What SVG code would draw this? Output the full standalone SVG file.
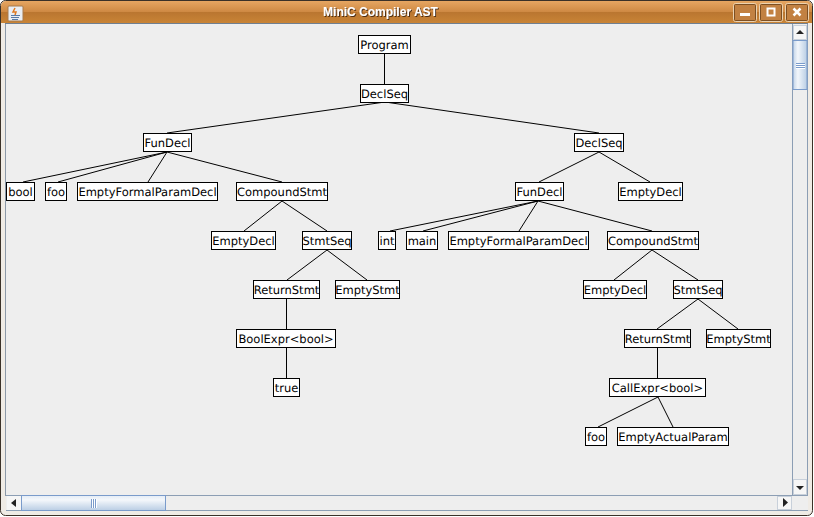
<svg xmlns="http://www.w3.org/2000/svg" width="814" height="517" viewBox="0 0 814 517">
<defs>
<linearGradient id="tb" x1="0" y1="0" x2="0" y2="1"><stop offset="0" stop-color="#e6a662"/><stop offset="0.48" stop-color="#cf8a44"/><stop offset="0.52" stop-color="#ba7630"/><stop offset="1" stop-color="#c98436"/></linearGradient>
<linearGradient id="vt" x1="0" y1="0" x2="1" y2="0"><stop offset="0" stop-color="#c3d4e8"/><stop offset="0.35" stop-color="#f2f6fb"/><stop offset="1" stop-color="#b9cde4"/></linearGradient>
<linearGradient id="ht" x1="0" y1="0" x2="0" y2="1"><stop offset="0" stop-color="#e4ecf6"/><stop offset="0.3" stop-color="#f4f7fb"/><stop offset="1" stop-color="#b9cde4"/></linearGradient>
<filter id="ts" x="-10%" y="-30%" width="120%" height="170%"><feDropShadow dx="1" dy="1" stdDeviation="0.7" flood-color="#3c2408" flood-opacity="0.9"/></filter>
</defs>
<style>
.n rect{fill:#fff;stroke:#000;stroke-width:1}
.n text{font:11.5px "DejaVu Sans",sans-serif;fill:#000;text-anchor:middle;text-rendering:geometricPrecision}
#connectors line{stroke:#000;stroke-width:1}
.wb{fill:none;stroke:#ecd2b0;stroke-width:1}
.bf{fill:#c28142;stroke:#7d4f22}
.tr{fill:#eeeeee}
.btn{fill:#f6f6f6;stroke:#c8d0da}
.th{stroke:#7a9bcb;stroke-width:1;fill:none}
.tw{stroke:#ffffff;stroke-width:1;fill:none}
</style>
<rect x="0" y="0" width="814" height="517" fill="#ffffff"/>
<g id="window">
<rect x="0.5" y="0.5" width="812" height="515" rx="5" fill="#efebe5" stroke="#3a3128"/>
<path d="M1 23V6a5 5 0 0 1 5-5H807a5 5 0 0 1 5 5V23Z" fill="url(#tb)"/>
<rect x="5" y="23" width="803" height="1" fill="#6f7f91"/>
<rect x="5" y="24" width="1" height="472" fill="#8c99a8"/>
<rect x="6" y="24" width="787" height="472" fill="#eeeeee"/>
<rect x="8" y="6" width="15" height="15" rx="1" fill="#e9eef4" stroke="#a87a4c"/>
<path d="M15 8l-2 4h3l-1 3" fill="none" stroke="#e07a20" stroke-width="1.5"/>
<path d="M11 15.500h9M11 17.500h8M12 19.500h6" stroke="#5a7ba6" stroke-width="1"/>
<text x="380.500" y="16" font-family="'Liberation Sans',sans-serif" font-size="12" font-weight="bold" fill="#ffffff" text-anchor="middle" filter="url(#ts)">MiniC Compiler AST</text>
<rect x="733.500" y="3.500" width="23" height="18" rx="2" class="wb"/>
<rect x="734.500" y="4.500" width="21" height="16" rx="1" class="bf"/>
<rect x="740" y="13" width="10" height="3" fill="#fff"/>
<rect x="759.500" y="3.500" width="23" height="18" rx="2" class="wb"/>
<rect x="760.500" y="4.500" width="21" height="16" rx="1" class="bf"/>
<rect x="767.500" y="8.500" width="7" height="7" fill="none" stroke="#fff" stroke-width="2"/>
<rect x="785.500" y="3.500" width="23" height="18" rx="2" class="wb"/>
<rect x="786.500" y="4.500" width="21" height="16" rx="1" class="bf"/>
<path d="M793.500 8.500l7 7M800.500 8.500l-7 7" stroke="#fff" stroke-width="2.500"/>
</g>
<g id="scrollbars">
<rect x="793" y="24" width="15" height="472" class="tr"/>
<rect x="792" y="24" width="1" height="472" fill="#8c9eb4"/>
<rect x="807" y="24" width="1" height="472" fill="#8c9eb4"/>
<rect x="793.500" y="25.500" width="13" height="14" class="btn"/>
<path d="M796 34h8l-4-4z" fill="#222"/>
<rect x="793" y="40.500" width="14" height="49" fill="url(#vt)" stroke="#7a9bcb"/>
<path d="M796 64.500h9M796 66.500h9M796 68.500h9" class="tw"/>
<path d="M796 63.500h9M796 65.500h9M796 67.500h9" class="th"/>
<rect x="793.500" y="479.500" width="13" height="15" class="btn"/>
<path d="M796 486h8l-4 4z" fill="#222"/>
<rect x="6" y="496" width="787" height="15" class="tr"/>
<rect x="6" y="495" width="802" height="1" fill="#8c9eb4"/>
<rect x="6" y="510" width="802" height="1" fill="#8c9eb4"/>
<rect x="7" y="496" width="14" height="14" fill="#f6f6f6"/>
<path d="M16 499v8l-5-4z" fill="#222"/>
<rect x="21.500" y="495.500" width="144" height="15" fill="url(#ht)" stroke="#7a9bcb"/>
<path d="M92.500 499v9M94.500 499v9M96.500 499v9" class="tw"/>
<path d="M91.500 499v9M93.500 499v9M95.500 499v9" class="th"/>
<rect x="777.500" y="496.500" width="14" height="13" class="btn"/>
<path d="M783 498v9l5-4.500z" fill="#222"/>
<rect x="793" y="496" width="15" height="14" fill="#eeeeee"/>
</g>
<g id="connectors">
<line x1="384.500" y1="54" x2="384.500" y2="84"/>
<line x1="385" y1="102" x2="167" y2="133"/>
<line x1="385" y1="102" x2="599" y2="133"/>
<line x1="167" y1="152" x2="23" y2="182"/>
<line x1="167" y1="152" x2="58" y2="182"/>
<line x1="167" y1="152" x2="148" y2="182"/>
<line x1="167" y1="152" x2="282" y2="182"/>
<line x1="282" y1="201" x2="244" y2="231"/>
<line x1="282" y1="201" x2="327" y2="231"/>
<line x1="327" y1="250" x2="287" y2="280"/>
<line x1="327" y1="250" x2="367" y2="280"/>
<line x1="286.500" y1="299" x2="286.500" y2="329"/>
<line x1="286.500" y1="348" x2="286.500" y2="378"/>
<line x1="599" y1="152" x2="539" y2="182"/>
<line x1="599" y1="152" x2="650" y2="182"/>
<line x1="538" y1="201" x2="390" y2="231"/>
<line x1="538" y1="201" x2="423" y2="231"/>
<line x1="538" y1="201" x2="519" y2="231"/>
<line x1="538" y1="201" x2="652" y2="231"/>
<line x1="652" y1="250" x2="614" y2="280"/>
<line x1="652" y1="250" x2="698" y2="280"/>
<line x1="698" y1="299" x2="657" y2="329"/>
<line x1="698" y1="299" x2="738" y2="329"/>
<line x1="657.500" y1="348" x2="657.500" y2="378"/>
<line x1="658" y1="397" x2="598" y2="427"/>
<line x1="658" y1="397" x2="673" y2="427"/>
</g>
<g id="n-program" class="n"><rect x="358.500" y="35.500" width="52" height="18"/><text x="384.500" y="49">Program</text></g>
<g id="n-declseq1" class="n"><rect x="360.500" y="84.500" width="48" height="18"/><text x="384.500" y="98">DeclSeq</text></g>
<g id="n-fundecl1" class="n"><rect x="143.500" y="133.500" width="48" height="18"/><text x="167.500" y="147">FunDecl</text></g>
<g id="n-declseq2" class="n"><rect x="574.500" y="133.500" width="49" height="18"/><text x="599" y="147">DeclSeq</text></g>
<g id="n-bool" class="n"><rect x="6.500" y="182.500" width="28" height="18"/><text x="20.500" y="196">bool</text></g>
<g id="n-foo1" class="n"><rect x="45.500" y="182.500" width="21" height="18"/><text x="56" y="196">foo</text></g>
<g id="n-efpd1" class="n"><rect x="77.500" y="182.500" width="140" height="18"/><text x="147.500" y="196">EmptyFormalParamDecl</text></g>
<g id="n-cs1" class="n"><rect x="236.500" y="182.500" width="91" height="18"/><text x="282" y="196">CompoundStmt</text></g>
<g id="n-fundecl2" class="n"><rect x="515.500" y="182.500" width="48" height="18"/><text x="539.500" y="196">FunDecl</text></g>
<g id="n-ed2" class="n"><rect x="618.500" y="182.500" width="64" height="18"/><text x="650.500" y="196">EmptyDecl</text></g>
<g id="n-ed1" class="n"><rect x="211.500" y="231.500" width="64" height="18"/><text x="243.500" y="245">EmptyDecl</text></g>
<g id="n-ss1" class="n"><rect x="302.500" y="231.500" width="49" height="18"/><text x="327" y="245">StmtSeq</text></g>
<g id="n-int" class="n"><rect x="378.500" y="231.500" width="17" height="18"/><text x="387" y="245">int</text></g>
<g id="n-main" class="n"><rect x="406.500" y="231.500" width="31" height="18"/><text x="422" y="245">main</text></g>
<g id="n-efpd2" class="n"><rect x="448.500" y="231.500" width="140" height="18"/><text x="518.500" y="245">EmptyFormalParamDecl</text></g>
<g id="n-cs2" class="n"><rect x="607.500" y="231.500" width="91" height="18"/><text x="653" y="245">CompoundStmt</text></g>
<g id="n-rs1" class="n"><rect x="253.500" y="280.500" width="66" height="18"/><text x="286.500" y="294">ReturnStmt</text></g>
<g id="n-es1" class="n"><rect x="335.500" y="280.500" width="64" height="18"/><text x="367.500" y="294">EmptyStmt</text></g>
<g id="n-ed3" class="n"><rect x="583.500" y="280.500" width="63" height="18"/><text x="615" y="294">EmptyDecl</text></g>
<g id="n-ss2" class="n"><rect x="673.500" y="280.500" width="49" height="18"/><text x="698" y="294">StmtSeq</text></g>
<g id="n-be" class="n"><rect x="236.500" y="329.500" width="99" height="18"/><text x="286" y="343">BoolExpr&lt;bool&gt;</text></g>
<g id="n-rs2" class="n"><rect x="624.500" y="329.500" width="66" height="18"/><text x="657.500" y="343">ReturnStmt</text></g>
<g id="n-es2" class="n"><rect x="706.500" y="329.500" width="64" height="18"/><text x="738.500" y="343">EmptyStmt</text></g>
<g id="n-true" class="n"><rect x="273.500" y="378.500" width="26" height="18"/><text x="286.500" y="392">true</text></g>
<g id="n-ce" class="n"><rect x="609.500" y="378.500" width="96" height="18"/><text x="657.500" y="392">CallExpr&lt;bool&gt;</text></g>
<g id="n-foo2" class="n"><rect x="585.500" y="427.500" width="21" height="18"/><text x="596" y="441">foo</text></g>
<g id="n-eap" class="n"><rect x="617.500" y="427.500" width="111" height="18"/><text x="673" y="441">EmptyActualParam</text></g>
</svg>
